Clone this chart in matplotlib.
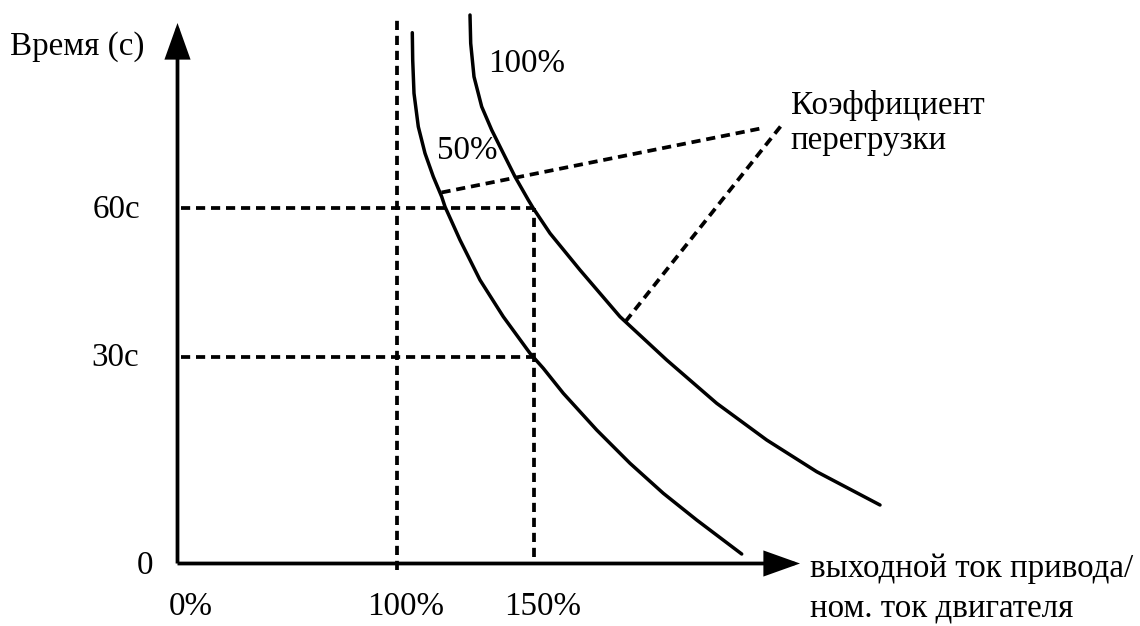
import matplotlib
matplotlib.use('Agg')
import matplotlib.pyplot as plt
from matplotlib.patches import FancyArrowPatch

plt.rcParams['font.family'] = ['Liberation Serif', 'DejaVu Serif']
plt.rcParams['lines.scale_dashes'] = False

# ---- data (chart units, origin at the axes crossing) ----
x_tick_pos = [0, 219, 356]
x_tick_labels = ['0%', '100%', '150%']
x_label_centers = [13.5, 228.5, 365]

y_tick_pos = [0, 207, 356]
y_tick_labels = ['0', '30с', '60с']
y_label_right = [-24.5, -38.5, -37.5]

curve50_x = [234.8, 235.2, 236.5, 240.8, 247.5, 255.8, 264.2, 267.5, 282.5, 302.5,
             325.8, 352.5, 365.8, 385.8, 419.2, 452.5, 485.8, 519.2, 564.2]
curve50_y = [530.8, 503.5, 470.2, 436.8, 410.2, 386.8, 366.8, 356.8, 323.5, 283.5,
             246.8, 210.2, 195.2, 170.2, 133.5, 100.2, 70.2, 43.5, 9.5]

curve100_x = [292.5, 293.2, 296.5, 304.2, 314.2, 325.8, 337.5, 350.8, 355.8, 372.5,
              402.5, 442.5, 489.2, 539.2, 589.2, 639.2, 702.5]
curve100_y = [548.5, 520.2, 486.8, 456.8, 433.5, 410.2, 386.8, 363.5, 355.2, 330.2,
              293.5, 246.8, 203.5, 160.2, 123.5, 91.8, 58.5]

leader1_x = [264, 583]
leader1_y = [371, 435]
leader2_x = [603, 448]
leader2_y = [437, 242]

x_axis_end = 622.5
y_axis_end = 540.5

FS = 23.8
DASH = (0, (6.6, 4.2))
LW_DOT = 2.7
LW_CURVE = 2.5
LW_AXIS = 2.7

fig = plt.figure(figsize=(11.4, 6.26), dpi=100)
ax = fig.add_axes([0, 0, 1, 1])
ax.set_xlim(-177.5, 962.5)
ax.set_ylim(-62.5, 563.5)
ax.axis('off')

# dotted guides
ax.plot([x_tick_pos[1], x_tick_pos[1]], [-6, 544], color='black', lw=LW_DOT, ls=DASH)
ax.plot([x_tick_pos[2], x_tick_pos[2]], [7, y_tick_pos[2]], color='black', lw=LW_DOT, ls=DASH)
for yp in y_tick_pos[1:]:
    ax.plot([3, x_tick_pos[2]], [yp, yp], color='black', lw=LW_DOT, ls=DASH)

# leader lines
ax.plot(leader1_x, leader1_y, color='black', lw=LW_DOT, ls=DASH)
ax.plot(leader2_x, leader2_y, color='black', lw=LW_DOT, ls=DASH)

# curves
ax.plot(curve50_x, curve50_y, color='black', lw=LW_CURVE,
        solid_capstyle='round', solid_joinstyle='round')
ax.plot(curve100_x, curve100_y, color='black', lw=LW_CURVE,
        solid_capstyle='round', solid_joinstyle='round')

# axes with arrows
style = "-|>,head_length=21,head_width=7.5"
for tip in [(x_axis_end, 0), (0, y_axis_end)]:
    arr = FancyArrowPatch((0, 0), tip, arrowstyle=style, mutation_scale=1,
                          color='black', lw=LW_AXIS, shrinkA=0, shrinkB=0,
                          joinstyle='miter', capstyle='butt')
    ax.add_patch(arr)

# tick labels
for xc, lab in zip(x_label_centers, x_tick_labels):
    ax.text(xc, -51.5, lab, fontsize=FS, ha='center', va='baseline')
for yp, xr, lab in zip(y_tick_pos, y_label_right, y_tick_labels):
    ax.text(xr, yp - 10, lab, fontsize=FS, ha='right', va='baseline')

# axis titles
ax.text(-167, 508.5, 'Время (с)', fontsize=FS, ha='left', va='baseline')
ax.text(632, -13.2, 'выходной ток привода/', fontsize=FS, ha='left', va='baseline')
ax.text(632, -53.2, 'ном. ток двигателя', fontsize=FS, ha='left', va='baseline')

# curve labels
ax.text(310.5, 492, '100%', fontsize=FS, ha='left', va='baseline')
ax.text(259.5, 404.5, '50%', fontsize=FS, ha='left', va='baseline')
ax.text(613, 449.5, 'Коэффициент', fontsize=FS, ha='left', va='baseline')
ax.text(613, 414, 'перегрузки', fontsize=FS, ha='left', va='baseline')

fig.savefig('out.png', dpi=100)
